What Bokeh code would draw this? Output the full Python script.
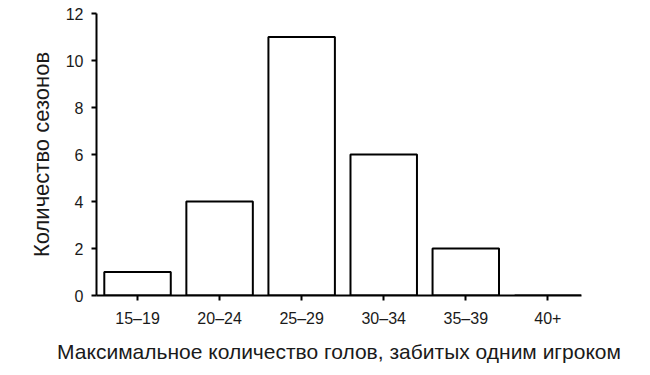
from bokeh.plotting import figure
from bokeh.models import Range1d, FixedTicker
from bokeh.embed import file_html
from bokeh.resources import INLINE

categories = ["15–19", "20–24", "25–29", "30–34", "35–39", "40+"]
seasons = [1, 4, 11, 6, 2, 0]
y_ticks = [0, 2, 4, 6, 8, 10, 12]

idx = list(range(len(categories)))

FONT = "Liberation Sans"
TXT = "#1a1a1a"

p = figure(width=640, height=365, output_backend="svg", toolbar_location=None,
           x_range=Range1d(-0.5, 5.41), y_range=Range1d(0, 12),
           min_border_left=96, min_border_right=59, min_border_top=13, min_border_bottom=68)
p.outline_line_color = None
p.xgrid.grid_line_color = None
p.ygrid.grid_line_color = None
p.background_fill_color = "white"

p.vbar(x=idx, top=seasons, bottom=0, width=0.81, fill_color="white",
       line_color="black", line_width=2)

for ax in (p.xaxis[0], p.yaxis[0]):
    ax.axis_line_color = "black"
    ax.axis_line_width = 2
    ax.major_tick_line_color = "black"
    ax.major_tick_line_width = 2
    ax.major_tick_in = 0
    ax.major_tick_out = 5
    ax.minor_tick_line_color = None
    ax.major_label_text_font = FONT
    ax.major_label_text_font_size = "16px"
    ax.major_label_text_color = TXT
    ax.axis_label_text_font = FONT
    ax.axis_label_text_font_style = "normal"
    ax.axis_label_text_color = TXT

p.xaxis.ticker = FixedTicker(ticks=idx)
p.xaxis.major_label_overrides = {i: c for i, c in zip(idx, categories)}
p.xaxis.axis_label = "Максимальное количество голов, забитых одним игроком"
p.xaxis.axis_label_text_font_size = "21px"
p.xaxis.major_label_standoff = 9
p.xaxis.axis_label_standoff = 10

p.yaxis.ticker = FixedTicker(ticks=y_ticks)
p.yaxis.axis_label = "Количество сезонов"
p.yaxis.axis_label_text_font_size = "22px"
p.yaxis.major_label_standoff = 8
p.yaxis.axis_label_standoff = 9

open("out.html", "w").write(file_html(p, INLINE))
